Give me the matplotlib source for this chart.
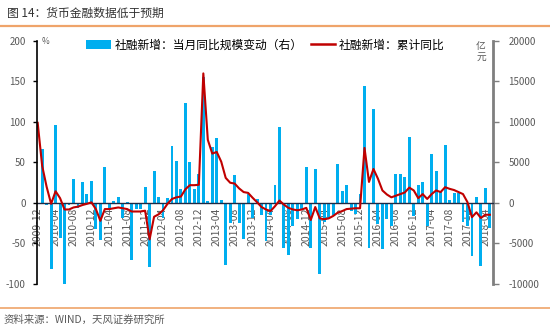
import numpy as np
import pandas as pd
import matplotlib
matplotlib.use('Agg')
import matplotlib.pyplot as plt
from matplotlib.patches import Patch
from matplotlib.lines import Line2D

plt.rcParams['font.family'] = ['Noto Sans CJK SC', 'DejaVu Sans']
plt.rcParams['axes.unicode_minus'] = False

months = [str(p) for p in pd.period_range('2009-12', '2018-05', freq='M')]

# 社融新增：当月同比规模变动 (亿元, right axis)
tsf_yoy_chg = [
    np.nan, 6640, -300, -8200, 9600, -4300, -10200, -300, 3000, -600,
    2650, 1070, 2750, -3200, -4570, 4400, -900, 300, 750, -1900,
    150, -7000, -800, -700, 2000, -7850, 4000, 700, -1900, 600,
    7000, 5200, 1750, 12300, 5000, 1670, 3540, 15600, 300, 6900,
    8000, 400, -7600, -2500, 3400, -2450, -4400, 1150, -1850, 500,
    -1450, -4750, -1500, 2200, 9400, -5550, -6400, -2900, -2000, -700,
    4450, -5600, 4250, -8800, -2300, -1900, -1500, 4800, 1500, 2200,
    -1000, -1400, 1150, 14400, -5500, 11600, -2600, -5700, -2000, -2800,
    3550, 3600, 3250, 8200, -1600, 2200, 2600, -2900, 6100, 3900,
    1400, 7200, 330, 1250, 1250, -2300, -2800, -6600, 800, -7800,
    1900, -3100,
]

# 社融新增：累计同比 (%, left axis)
tsf_cum_yoy = [
    99, 46, 20, -1, 14.5, 6, -8, -8, -5.5, -4.5,
    -2.5, -1, 0.8, -7.5, -22, -7.5, -7.5, -6.5, -5.5, -6.5,
    -7.5, -10.5, -10.5, -10.5, -9.5, -45, -17, -14, -9, -1,
    5, 7, 8, 17, 22, 22, 22.5, 160, 78, 61,
    63, 51, 31, 25, 24, 18, 13.5, 12.5, 6.5, 1,
    -5, -8, -10, -4, 3, -2, -6, -8, -9, -8,
    -6, -21, -5, -19, -20, -19, -16, -12, -10, -7.5,
    -7, -6.5, -6.5, 68, 26, 42, 30, 15.5, 10.5, 7,
    9, 11, 13, 19, 15.5, 6, 11, 5, 11, 15.5,
    13.5, 19.5, 17.5, 16, 13.5, 11, 1, -17.5, -11.5, -18.5,
    -14.5, -14.5,
]

blue = '#00AEEF'
red = '#C00000'
grey = '#595959'

x = np.arange(len(months))

fig = plt.figure(figsize=(5.5, 3.31), dpi=100)
ax = fig.add_axes([37/550, 1-284/331, (493-37)/550, (284-41)/331])
axl = ax.twinx()   # line axis (left), drawn above the bars

# bars on the right axis
ax.bar(x, tsf_yoy_chg, width=0.65, color=blue, zorder=1)
ax.set_xlim(-0.15, 101.7)
ax.set_ylim(-10000, 20000)
ax.set_axisbelow(True)
ax.yaxis.tick_right()
ax.yaxis.set_label_position('right')
ax.set_yticks(range(-10000, 20001, 5000))
ax.tick_params(axis='y', which='both', left=False, labelleft=False,
               right=True, labelright=True, direction='out', length=4,
               width=1, color='#7F7F7F', labelsize=7, labelcolor=grey, pad=7)
ax.set_xticks(x[::4])
ax.set_xticklabels(months[::4])
ax.tick_params(axis='x', length=0, pad=3, labelsize=7.5, labelcolor=grey,
               labelrotation=90)
ax.spines['bottom'].set_position(('data', 0))
ax.spines['bottom'].set_color('#1F2A44')
ax.spines['bottom'].set_linewidth(1)
ax.spines['right'].set_color('#7F7F7F')
ax.spines['right'].set_linewidth(2)
ax.spines['left'].set_visible(False)
ax.spines['top'].set_visible(False)

# line on the left axis
axl.plot(x, tsf_cum_yoy, color=red, lw=1.5)
axl.set_ylim(-100, 200)
axl.set_yticks(range(-100, 201, 50))
axl.tick_params(axis='y', which='both', right=False, labelright=False,
                left=True, labelleft=True, direction='out', length=3,
                width=1, color='black', labelsize=7, labelcolor=grey, pad=5)
axl.spines['left'].set_visible(True)
axl.spines['left'].set_color('black')
axl.spines['left'].set_linewidth(1.2)
for s in ['right', 'top', 'bottom']:
    axl.spines[s].set_visible(False)

axl.annotate('%', xy=(0, 1), xycoords='axes fraction', xytext=(3, 0),
             textcoords='offset points', va='center', ha='left', fontsize=6,
             color=grey)
fig.text(481/550, 1-51/331, '亿\n元', ha='center', va='center', fontsize=7,
         color=grey, linespacing=1.1)

handles = [Patch(facecolor=blue, edgecolor='none'),
           Line2D([], [], color=red, lw=1.8)]
labels = ['社融新增：当月同比规模变动（右）', '社融新增：累计同比']
fig.legend(handles, labels, loc='center left',
           bbox_to_anchor=(86/550, 1-45/331), ncol=2, frameon=False,
           fontsize=8.5, handlelength=2.1, handletextpad=0.3,
           columnspacing=0.7, borderpad=0, borderaxespad=0)

# title, separators and source
fig.text(7/550, 1-13/331, '图 14：货币金融数据低于预期', ha='left', va='center',
         fontsize=8.5, color='#333333')
fig.add_artist(Line2D([0, 1], [1-26/331]*2, transform=fig.transFigure,
                      color='#EFA46A', lw=1.6))
fig.add_artist(Line2D([0, 1], [1-308/331]*2, transform=fig.transFigure,
                      color='#EFA46A', lw=1.2))
fig.text(4/550, 1-320/331, '资料来源：WIND，天风证券研究所', ha='left',
         va='center', fontsize=7.5, color=grey)

fig.savefig('out.png', dpi=100)
